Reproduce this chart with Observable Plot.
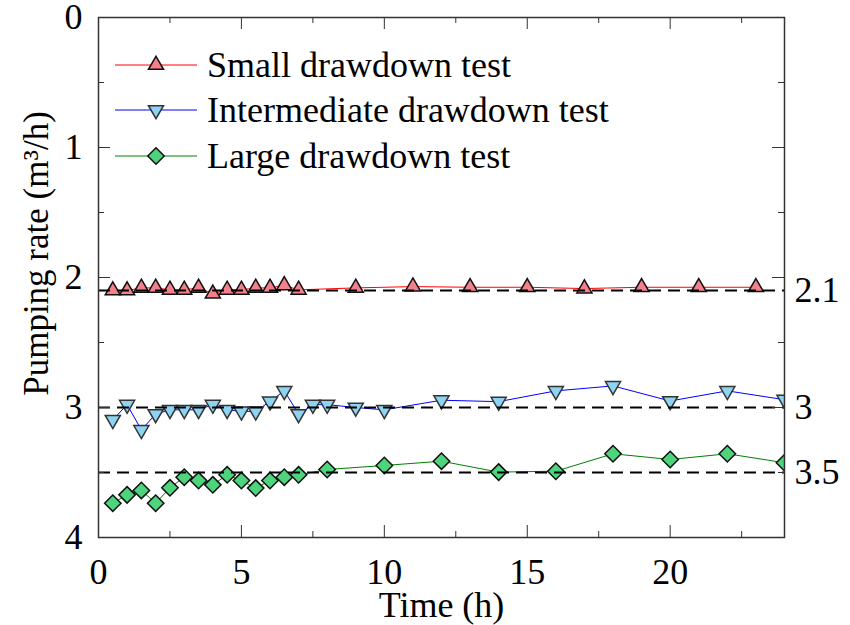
<!DOCTYPE html>
<html><head><meta charset="utf-8">
<script src="https://cdn.jsdelivr.net/npm/d3@7"></script>
<script src="https://cdn.jsdelivr.net/npm/@observablehq/plot@0.6"></script>
<style>body{margin:0;background:#fff} #chart{width:850px;height:625px}</style>
</head><body><div id="chart"></div>
<script>
// ---- data ----
const seriesNames = ["Small drawdown test", "Intermediate drawdown test", "Large drawdown test"];
const smallX = [0.5,1,1.5,2,2.5,3,3.5,4,4.5,5,5.5,6,6.5,7,9,11,13,15,17,19,21,23];
const smallY = [2.10,2.10,2.08,2.08,2.095,2.095,2.08,2.125,2.095,2.095,2.08,2.08,2.06,2.095,2.08,2.07,2.075,2.075,2.085,2.075,2.075,2.075];
const interX = [0.5,1,1.5,2,2.5,3,3.5,4,4.5,5,5.5,6,6.5,7,7.5,8,9,10,12,14,16,18,20,22,24];
const interY = [3.095,2.978,3.172,3.05,3.018,3.018,3.018,2.978,3.018,3.03,3.03,2.953,2.872,3.05,2.978,2.978,3.0,3.018,2.944,2.955,2.872,2.834,2.95,2.872,2.94];
const largeX = [0.5,1,1.5,2,2.5,3,3.5,4,4.5,5,5.5,6,6.5,7,8,10,12,14,16,18,20,22,24];
const largeY = [3.736,3.672,3.638,3.736,3.618,3.536,3.562,3.595,3.518,3.562,3.62,3.562,3.536,3.518,3.477,3.446,3.413,3.497,3.49,3.356,3.40,3.356,3.425];
const refLevels = [2.1, 3, 3.5];
const xMajorTicks = [0, 5, 10, 15, 20];
const xMinorTicks = [2.5, 7.5, 12.5, 17.5, 22.5];
const yMajorTicks = [0, 1, 2, 3, 4];
const yMinorTicks = [0.5, 1.5, 2.5, 3.5];
const xLabel = "Time (h)";
const yLabel = "Pumping rate (m³/h)";

// ---- layout / style ----
const W = 850, H = 625, mL = 98, mR = 66, mT = 17, mB = 88;
const plotW = W - mL - mR, plotH = H - mT - mB;
const FONT = "'Liberation Serif', 'Times New Roman', serif";
const FS = 36;

const triUp = {draw(ctx, size) {const s = Math.sqrt(size) * 0.6824, t = s / 2, u = s * Math.sqrt(3) / 2; ctx.moveTo(0, -s); ctx.lineTo(u, t); ctx.lineTo(-u, t); ctx.closePath();}};
const triDown = {draw(ctx, size) {const s = Math.sqrt(size) * 0.6824, t = s / 2, u = s * Math.sqrt(3) / 2; ctx.moveTo(0, s); ctx.lineTo(u, -t); ctx.lineTo(-u, -t); ctx.closePath();}};
const diamond = {draw(ctx, size) {const r = Math.sqrt(size) * 0.62625; ctx.moveTo(0, -r); ctx.lineTo(r, 0); ctx.lineTo(0, r); ctx.lineTo(-r, 0); ctx.closePath();}};

const styles = [
  {line: "#ff0000", fill: "#F4808C", stroke: "#111", symbol: triUp, r: 7.2},
  {line: "#0000ff", fill: "#8DD3F2", stroke: "#333", symbol: triDown, r: 7.2},
  {line: "#008000", fill: "#4FD47E", stroke: "#111", symbol: diamond, r: 7.4}
];

const series = [[smallX, smallY], [interX, interY], [largeX, largeY]].map(([xs, ys]) => xs.map((x, i) => ({x, y: ys[i]})));

const marks = [];
series.forEach((data, i) => {
  marks.push(Plot.line(data, {x: "x", y: "y", stroke: styles[i].line, strokeWidth: 1, clip: "frame"}));
});
series.forEach((data, i) => {
  marks.push(Plot.dot(data, {x: "x", y: "y", symbol: styles[i].symbol, r: styles[i].r, fill: styles[i].fill, stroke: styles[i].stroke, strokeWidth: 1.5, clip: "frame"}));
});
marks.push(
  Plot.ruleY(refLevels, {y: d => d, stroke: "#000", strokeWidth: 2, strokeDasharray: "12,7"}),
  // inward ticks
  Plot.tickX(xMajorTicks, {x: d => d, insetTop: plotH - 12, stroke: "#333"}),
  Plot.tickX(xMajorTicks, {x: d => d, insetBottom: plotH - 12, stroke: "#333"}),
  Plot.tickX(xMinorTicks, {x: d => d, insetTop: plotH - 6, stroke: "#333"}),
  Plot.tickX(xMinorTicks, {x: d => d, insetBottom: plotH - 6, stroke: "#333"}),
  Plot.tickY(yMajorTicks, {y: d => d, insetRight: plotW - 12, stroke: "#333"}),
  Plot.tickY(yMajorTicks, {y: d => d, insetLeft: plotW - 12, stroke: "#333"}),
  Plot.tickY(yMinorTicks, {y: d => d, insetRight: plotW - 6, stroke: "#333"}),
  Plot.tickY(yMinorTicks, {y: d => d, insetLeft: plotW - 6, stroke: "#333"}),
  Plot.frame({stroke: "#333", strokeWidth: 1.5}),
  Plot.axisX(xMajorTicks, {tickSize: 0, tickPadding: 21, fontSize: FS, label: null, tickFormat: d => String(d)}),
  Plot.axisY(yMajorTicks, {anchor: "left", tickSize: 0, tickPadding: 16, fontSize: FS, label: null, tickFormat: d => String(d)}),
  Plot.axisY(refLevels, {anchor: "right", tickSize: 0, tickPadding: 10, fontSize: FS, label: null, tickFormat: d => String(d)}),
  Plot.text([xLabel], {frameAnchor: "bottom", dy: 68, lineAnchor: "middle", textAnchor: "middle", text: d => d, fontSize: FS}),
  Plot.text([yLabel], {frameAnchor: "left", dx: -62, dy: -24, rotate: -90, lineAnchor: "middle", textAnchor: "middle", text: d => d, fontSize: 35})
);

const chart = Plot.plot({
  width: W, height: H,
  marginLeft: mL, marginRight: mR, marginTop: mT, marginBottom: mB,
  style: {fontFamily: FONT, fontSize: FS + "px", color: "#000", background: "#fff"},
  x: {domain: [0, 24]},
  y: {domain: [0, 4], reverse: true},
  marks
});

// ---- legend inside the plot area ----
const svg = d3.select(chart);
const lg = svg.append("g").attr("font-family", FONT).attr("font-size", FS).attr("text-anchor", "start");
const rowY = [65, 110, 156];
seriesNames.forEach((name, i) => {
  const y = rowY[i], s = styles[i];
  lg.append("line").attr("x1", 115).attr("x2", 197).attr("y1", y).attr("y2", y).attr("stroke", s.line).attr("stroke-width", 1);
  lg.append("path").attr("transform", `translate(156,${y})`)
    .attr("d", d3.symbol(s.symbol, Math.PI * s.r * s.r)())
    .attr("fill", s.fill).attr("stroke", s.stroke).attr("stroke-width", 1.5);
  lg.append("text").attr("x", 207).attr("y", y).attr("dy", "0.33em").attr("fill", "#000").text(name);
});

document.getElementById("chart").appendChild(chart);
</script>
</body></html>
